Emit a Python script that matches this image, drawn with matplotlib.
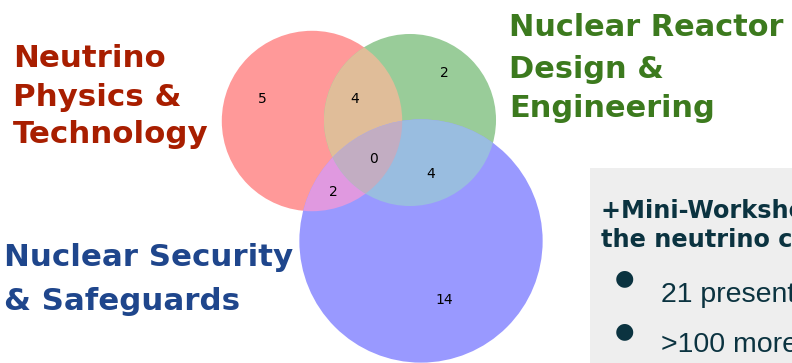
import numpy as np
import matplotlib
matplotlib.use("Agg")
import matplotlib.pyplot as plt
from matplotlib.patches import Circle, Polygon, Rectangle
from matplotlib.colors import to_rgb

# ---- data (region sizes of a 3-set Venn diagram) ----
set_names = ["Neutrino Physics & Technology",
             "Nuclear Reactor Design & Engineering",
             "Nuclear Security & Safeguards"]
# regions: A only, B only, AB, C only, AC, BC, ABC
region_keys = ["100", "010", "110", "001", "101", "011", "111"]
region_vals = [5, 2, 4, 14, 2, 4, 0]

box_title = ["+Mini-Workshops on", "the neutrino community"]
bullets = ["21 presentations", ">100 more participants"]

# ---- layout ----
W, H = 792, 363
fig = plt.figure(figsize=(W / 100, H / 100), dpi=100)
ax = fig.add_axes([0, 0, 1, 1])
ax.set_xlim(0, W)
ax.set_ylim(H, 0)
ax.axis("off")

vals = dict(zip(region_keys, region_vals))
set_sizes = [sum(v for k, v in vals.items() if k[i] == "1") for i in range(3)]
scale = 27.2
radii = [scale * np.sqrt(s) for s in set_sizes]
centers = [(312, 121), (410, 120), (421, 241)]

base = [to_rgb(c) for c in ("r", "g", "b")]
alpha = 0.4


def shade(rgb):
    rgb = np.minimum(np.array(rgb), 1.0)
    return tuple(1 - alpha * (1 - rgb))


def mix(*cols):
    cols = np.array(cols)
    f = 0.7 if len(cols) == 2 else 0.4
    return f * cols.sum(axis=0)


colA, colB, colC = [shade(c) for c in base]
colAB = shade(mix(base[0], base[1]))
colAC = shade(mix(base[0], base[2]))
colBC = shade(mix(base[1], base[2]))
colABC = shade(mix(base[0], base[1], base[2]))


def circ(i, color):
    return Circle(centers[i], radii[i], facecolor=color, edgecolor="none", zorder=1)


# single sets
for i, c in enumerate([colA, colB, colC]):
    ax.add_patch(circ(i, c))

# pairwise intersections
for (i, j, c) in [(1, 0, colAB), (2, 0, colAC), (2, 1, colBC)]:
    p = circ(i, c)
    ax.add_patch(p)
    p.set_clip_path(Circle(centers[j], radii[j], transform=ax.transData))

# triple intersection: lens of A and B, used as clip for C
t = np.linspace(0, 2 * np.pi, 2000)
pts = []
for i, j in [(0, 1), (1, 0)]:
    xs = centers[i][0] + radii[i] * np.cos(t)
    ys = centers[i][1] + radii[i] * np.sin(t)
    inside = (xs - centers[j][0]) ** 2 + (ys - centers[j][1]) ** 2 <= radii[j] ** 2
    pts.append(np.column_stack([xs[inside], ys[inside]]))
pts = np.vstack(pts)
cen = pts.mean(axis=0)
order = np.argsort(np.arctan2(pts[:, 1] - cen[1], pts[:, 0] - cen[0]))
lens = Polygon(pts[order], closed=True, transform=ax.transData)
p = circ(2, colABC)
ax.add_patch(p)
p.set_clip_path(lens)

# region labels
label_pos = {"100": (262, 99), "010": (444, 73), "110": (355, 99),
             "001": (444, 300), "101": (333, 192), "011": (431, 174),
             "111": (373, 159)}
for k in region_keys:
    x, y = label_pos[k]
    ax.text(x, y, str(vals[k]), ha="center", va="center", fontsize=10,
            family="DejaVu Sans", color="black", zorder=5)

# set titles
title_font = dict(family="DejaVu Sans", weight="bold", fontsize=22.2,
                  va="baseline", ha="left", zorder=6)
red_lines = ["Neutrino", "Physics &", "Technology"]
for line, yb in zip(red_lines, [67, 106, 143]):
    ax.text(13, yb, line, color="#A81E00", **title_font)
green_lines = ["Nuclear Reactor", "Design &", "Engineering"]
for line, yb in zip(green_lines, [36, 77.5, 117]):
    ax.text(509, yb, line, color="#3C7A1E", **{**title_font, "fontsize": 21.9})
blue_lines = ["Nuclear Security", "& Safeguards"]
for line, yb in zip(blue_lines, [266, 310]):
    ax.text(4, yb, line, color="#1F468C", **title_font)

# info box
ax.add_patch(Rectangle((590, 168), 300, 250, facecolor="#EEEEEE",
                       edgecolor="none", zorder=2))
teal = "#0B3340"
for line, yb in zip(box_title, [218, 247]):
    ax.text(601, yb, line, color=teal, family="DejaVu Sans", weight="bold",
            fontsize=17.3, va="baseline", zorder=6)
for b, yb, yd in zip(bullets, [301.5, 351.5], [278, 331]):
    ax.text(624, yd, "\u25CF", color=teal, family="DejaVu Sans", fontsize=16,
            ha="center", va="center", zorder=6)
    ax.text(661, yb, b, color=teal, family="Liberation Sans", fontsize=20.5,
            va="baseline", zorder=6)

fig.savefig("out.png", dpi=100)
